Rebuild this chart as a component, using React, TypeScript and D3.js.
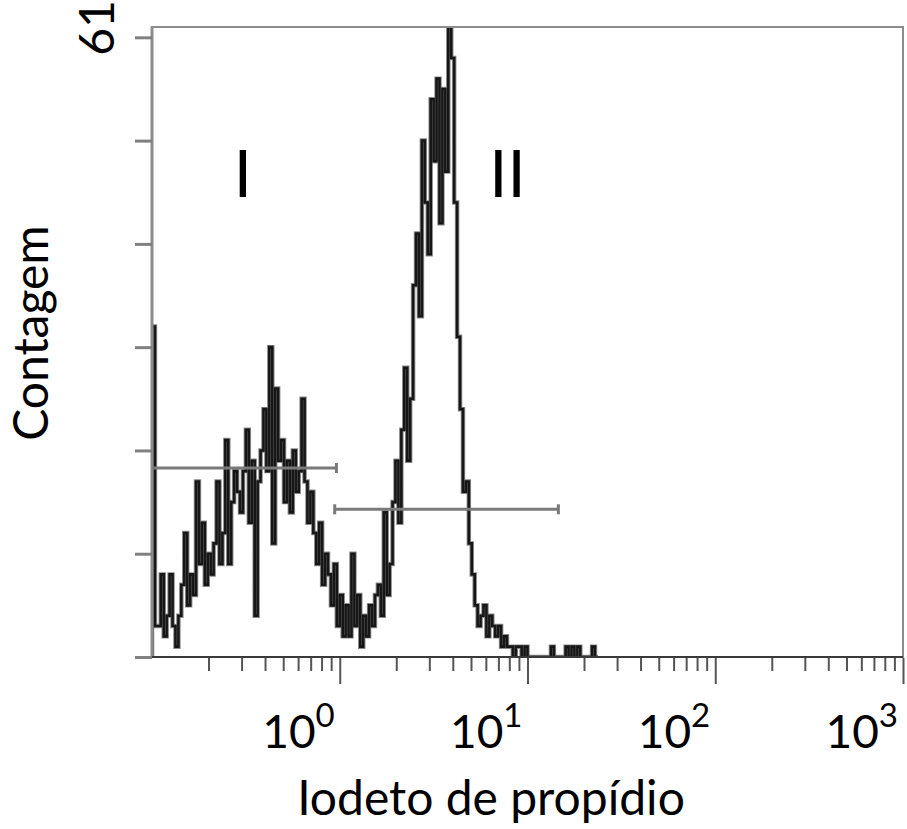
import React, { useEffect, useRef } from 'react';
import * as d3 from 'd3';

// counts per channel, 64 channels per decade starting at 10^-1
const counts = [
  32, 3,
  3, 8, 2, 4, 8, 3, 1, 4,
  7, 12, 5, 8, 6, 17, 9,
  13, 7, 10, 8, 11, 17, 9,
  12, 21, 9, 15, 18, 16,
  14, 18, 22, 13, 19, 4, 17,
  20, 24, 18, 30, 11, 26, 19,
  21, 15, 19, 14, 20, 16, 18,
  25, 17, 13, 16,
  12, 9, 13, 7, 10,
  8, 5, 9, 3, 6, 2,
  5, 2, 10, 3, 6, 1, 4, 2, 5, 3, 6,
  7, 4, 14, 6, 9,
  15, 19, 13,
  22, 28, 19, 25,
  36, 41, 33, 50,
  44, 39, 54,
  48, 56, 42, 55, 47,
  61, 58,
  44, 31,
  24, 16,
  17,
  11, 8,
  5, 3, 4,
  5, 2, 4, 3, 2,
  3, 1, 2, 1,
  1, 0, 1, 1, 0, 1,
  0, 0, 0, 0, 0, 0, 0, 0,
  1, 0, 0, 0, 0,
  1, 0, 1, 0, 1,
  0, 0, 0, 0, 1, 0,
];
const channelsPerDecade = 64;
const xDomain = [0.1, 1000];
const yMax = 61;
const yTicks = [0, 10, 20, 30, 40, 50, 60];
const majorTicks = [1, 10, 100, 1000];
const majorExp = ['0', '1', '2', '3'];
const minorMult = [2, 3, 4, 5, 6, 7, 8, 9];
const decades = [0.1, 1, 10, 100];

// marker gates (from, to, count level)
const gates = [
  { from: 0.1, to: 0.96, level: 18.3, capLeft: false },
  { from: 0.94, to: 14.6, level: 14.3, capLeft: true },
];
const regionLabels = [
  { text: 'I', at: 0.305, level: 44.5 },
  { text: 'II', at: 7.82, level: 44.5 },
];

export default function App() {
  const ref = useRef<SVGSVGElement>(null);

  useEffect(() => {
    const svg = d3.select(ref.current);
    svg.selectAll('*').remove();

    const width = 907, height = 829;
    const margin = { top: 27, right: 4, bottom: 172, left: 152 };
    const x = d3.scaleLog().domain(xDomain).range([margin.left, width - margin.right]);
    const y = d3.scaleLinear().domain([0, yMax]).range([height - margin.bottom, margin.top]);
    const x0 = margin.left, x1 = width - margin.right;
    const y0 = height - margin.bottom, y1 = margin.top;

    svg.append('defs').append('clipPath').attr('id', 'plotclip')
      .append('rect').attr('x', x0).attr('y', y1 - 1).attr('width', x1 - x0).attr('height', y0 - y1 + 1);

    // histogram as step line
    const pts: [number, number][] = [[xDomain[0], 0]];
    counts.forEach((c, i) => pts.push([Math.pow(10, -1 + i / channelsPerDecade), c]));
    pts.push([Math.pow(10, -1 + counts.length / channelsPerDecade), counts[counts.length - 1]]);
    const line = d3.line<[number, number]>()
      .x(d => x(d[0]))
      .y(d => y(d[1]))
      .curve(d3.curveStepAfter);
    // soft grey halo then black trace, like the scanned histogram
    svg.append('path')
      .attr('clip-path', 'url(#plotclip)')
      .attr('d', line(pts))
      .attr('fill', 'none')
      .attr('stroke', '#8a8a8a')
      .attr('stroke-width', 4.5);
    svg.append('path')
      .attr('clip-path', 'url(#plotclip)')
      .attr('d', line(pts))
      .attr('fill', 'none')
      .attr('stroke', '#161616')
      .attr('stroke-width', 2.6);

    // frame
    svg.append('rect')
      .attr('x', x0).attr('y', y1).attr('width', x1 - x0).attr('height', y0 - y1)
      .attr('fill', 'none').attr('stroke', '#8c8c8c').attr('stroke-width', 2);
    svg.append('line').attr('x1', x0).attr('x2', x0).attr('y1', y1).attr('y2', y0)
      .attr('stroke', '#8c8c8c').attr('stroke-width', 3);
    svg.append('line').attr('x1', x0).attr('x2', x1).attr('y1', y0).attr('y2', y0)
      .attr('stroke', '#3a3a3a').attr('stroke-width', 2);

    // gates
    gates.forEach(g => {
      const gy = y(g.level);
      svg.append('line').attr('x1', x(g.from)).attr('x2', x(g.to)).attr('y1', gy).attr('y2', gy)
        .attr('stroke', '#7a7a7a').attr('stroke-width', 3);
      const caps = g.capLeft ? [g.from, g.to] : [g.to];
      caps.forEach(c => {
        svg.append('line').attr('x1', x(c)).attr('x2', x(c)).attr('y1', gy - 5).attr('y2', gy + 5)
          .attr('stroke', '#7a7a7a').attr('stroke-width', 3);
      });
    });

    // y ticks
    const yAxis = svg.append('g').attr('transform', `translate(${x0},0)`)
      .call(d3.axisLeft(y).tickValues(yTicks).tickSize(17).tickFormat(() => ''));
    yAxis.select('.domain').remove();
    yAxis.selectAll('line').attr('stroke', '#808080').attr('stroke-width', 3);

    // x ticks
    const minor: number[] = [];
    decades.forEach(d => minorMult.forEach(m => minor.push(d * m)));
    const xMinor = svg.append('g').attr('transform', `translate(0,${y0 + 1})`)
      .call(d3.axisBottom(x).tickValues(minor).tickSize(13).tickFormat(() => ''));
    xMinor.select('.domain').remove();
    xMinor.selectAll('line').attr('stroke', '#555').attr('stroke-width', 2);
    const xMajor = svg.append('g').attr('transform', `translate(0,${y0 + 1})`)
      .call(d3.axisBottom(x).tickValues(majorTicks).tickSize(26).tickFormat(() => ''));
    xMajor.select('.domain').remove();
    xMajor.selectAll('line').attr('stroke', '#555').attr('stroke-width', 2);

    const font = 'Lato, "Open Sans", sans-serif';

    // x tick labels
    majorTicks.forEach((v, i) => {
      const t = svg.append('text')
        .attr('x', x(v) - 5).attr('y', 748)
        .attr('text-anchor', 'end')
        .attr('font-family', font).attr('font-size', 46).attr('fill', '#000');
      t.append('tspan').text('10');
      t.append('tspan').attr('dy', -21).attr('font-size', 33).text(majorExp[i]);
    });

    // x title
    svg.append('text')
      .attr('x', 491).attr('y', 815).attr('text-anchor', 'middle')
      .attr('font-family', font).attr('font-size', 48).attr('fill', '#000')
      .text('Iodeto de propídio');

    // y title and max label
    svg.append('text')
      .attr('transform', 'translate(48,333) rotate(-90)')
      .attr('text-anchor', 'middle')
      .attr('font-family', font).attr('font-size', 48).attr('fill', '#000')
      .text('Contagem');
    svg.append('text')
      .attr('transform', 'translate(114,28) rotate(-90)')
      .attr('text-anchor', 'middle')
      .attr('font-family', font).attr('font-size', 48).attr('fill', '#000')
      .text(String(yMax));

    // region labels
    regionLabels.forEach(r => {
      svg.append('text')
        .attr('x', x(r.at)).attr('y', y(r.level)).attr('text-anchor', 'middle')
        .attr('font-family', font).attr('font-size', 65).attr('fill', '#000')
        .text(r.text);
    });
  }, []);

  return (
    <svg
      ref={ref}
      width={907}
      height={829}
      style={{ position: 'absolute', left: 0, top: 0, display: 'block', background: '#fff' }}
    />
  );
}
